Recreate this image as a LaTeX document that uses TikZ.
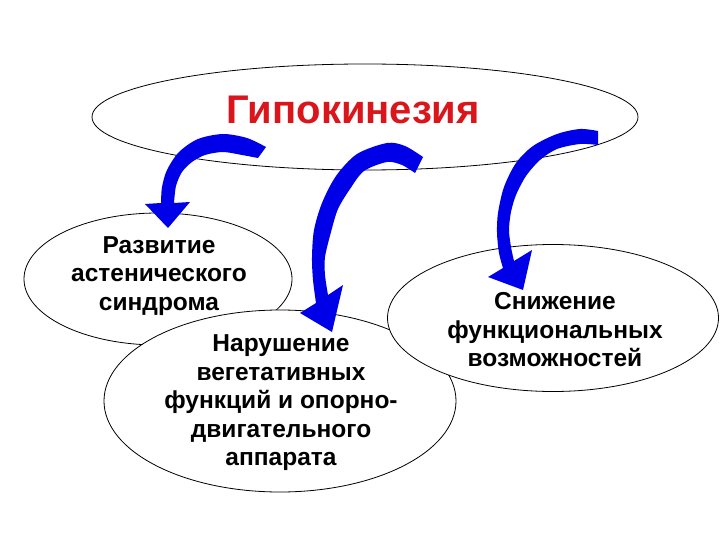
\documentclass[tikz,border=0pt]{standalone}
\usepackage{fontspec}
\setmainfont{Liberation Sans}
\usetikzlibrary{shapes.geometric,calc}

\definecolor{hypored}{RGB}{218,22,28}
\definecolor{arrowblue}{RGB}{0,0,232}

\tikzset{
  oval/.style={ellipse, draw=black, line width=0.8pt, fill=white, inner sep=0pt},
  lbl/.style={align=center, font=\fontsize{24.5}{28.5}\selectfont\bfseries, text=black},
  bluearrow/.style={fill=arrowblue, draw=none}
}

\begin{document}
\begin{tikzpicture}[x=1pt, y=-1pt]
    \useasboundingbox (0,0) rectangle (720,540);

    % =========================================================================
    % ELLIPSES (back to front)
    % =========================================================================
    % --- Top: Hypokinesia ---
    \node[oval, minimum width=546pt, minimum height=106pt] (hypo) at (365,117) {};
    \node[font=\fontsize{40}{44}\selectfont\bfseries, text=hypored] (hypo-txt) at (353,110) {Гипокинезия};

    % --- Left: asthenic syndrome ---
    \node[oval, minimum width=268pt, minimum height=132pt] (asthenia) at (158,279) {};
    \node[lbl] (asthenia-txt) at ($(asthenia)+(1,-3)$) {Развитие\\астенического\\синдрома};

    % --- Centre: vegetative functions ---
    \node[oval, minimum width=352pt, minimum height=182pt] (vegetat) at (280,401) {};
    \node[lbl] (vegetat-txt) at ($(vegetat)+(1,2)$) {Нарушение\\вегетативных\\функций и опорно-\\двигательного\\аппарата};

    % --- Right: reduced capacity ---
    \node[oval, minimum width=331pt, minimum height=147pt] (capacity) at (553,318) {};
    \node[lbl] (capacity-txt) at ($(capacity)+(2,12)$) {Снижение\\функциональных\\возможностей};

    % =========================================================================
    % CURVED ARROWS
    % =========================================================================
    % --- Arrow 1: to the left ellipse ---
    \fill[bluearrow] plot[smooth] coordinates {(266,147) (247,138) (223,134) (198,139) (179,152) (167,170) (162,187) (161,203)}
        -- (145,204) -- (168,228) -- (190,202) -- (174,203)
        -- plot[smooth] coordinates {(174,203) (176,186) (182,172) (192,162) (205,155) (223,152) (242,155) (258,158)} -- cycle;

    % --- Arrow 2: to the centre ellipse ---
    \fill[bluearrow] plot[smooth] coordinates {(423,157) (405,146) (387,143) (357,154) (336,176) (322,203) (314,230) (312,257) (313,280) (316,303)}
        -- (300,313) -- (332,332) -- (343,285) -- (328,295)
        -- plot[smooth] coordinates {(328,295) (325,275) (325,257) (331,232) (338,209) (350,189) (364,171) (387,162) (402,165) (415,173)} -- cycle;

    % --- Arrow 3: to the right ellipse ---
    \fill[bluearrow] plot[smooth] coordinates {(598,131) (580,129) (557,134) (533,146) (516,163) (504,187) (498,213) (497,233) (499,253) (503,268)}
        -- (488,277) -- (523,290) -- (532,250) -- (514,261)
        -- plot[smooth] coordinates {(514,261) (511,247) (509,230) (511,212) (516,195) (526,176) (540,160) (557,149) (580,144) (598,145)} -- cycle;

\end{tikzpicture}
\end{document}
